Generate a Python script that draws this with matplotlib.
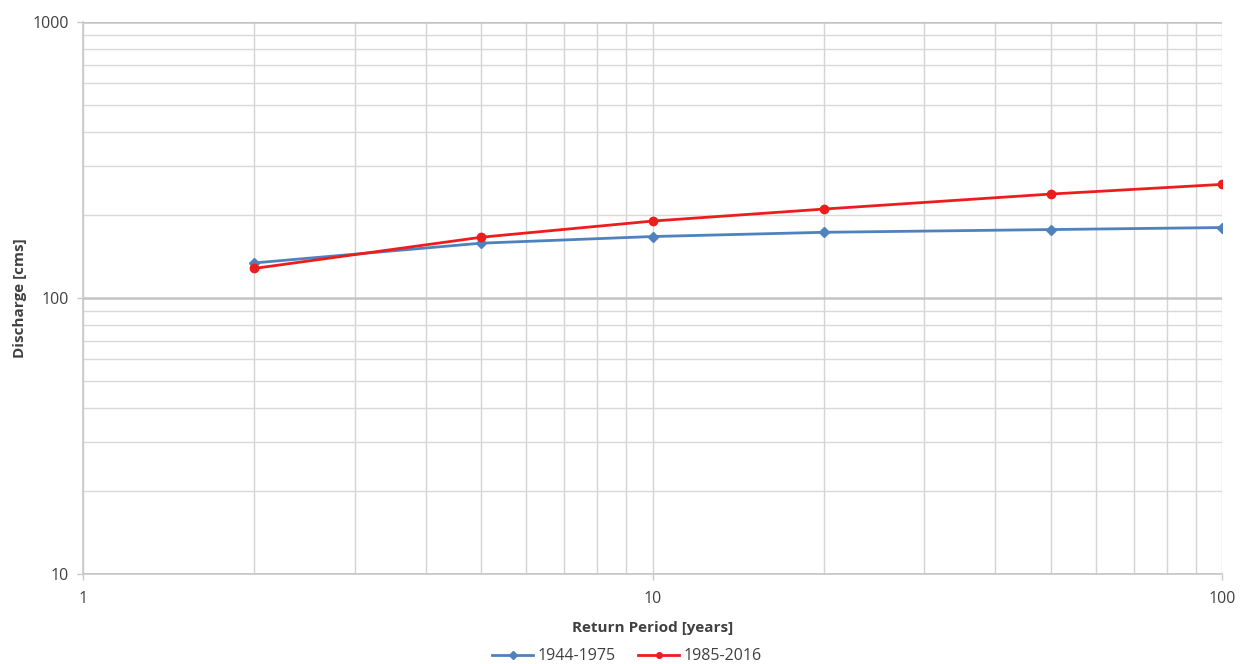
import matplotlib
matplotlib.use("Agg")
import matplotlib.pyplot as plt
from matplotlib.ticker import LogLocator, FixedLocator, NullFormatter, FixedFormatter

return_period = [2, 5, 10, 20, 50, 100]
q_1944_1975 = [134, 158, 167, 173, 177, 180]
q_1985_2016 = [128, 166, 190, 210, 238, 258]
series_labels = ["1944-1975", "1985-2016"]
x_ticks = [1, 10, 100]
x_tick_labels = ["1", "10", "100"]
y_ticks = [10, 100, 1000]
y_tick_labels = ["10", "100", "1000"]

plt.rcParams['font.family'] = ['Open Sans', 'DejaVu Sans']

fig = plt.figure(figsize=(12.41, 6.64), dpi=100)
ax = fig.add_axes([83/1241, 90/664, 1139/1241, 552/664])
ax.set_xscale('log')
ax.set_yscale('log')
ax.set_xlim(1, 100)
ax.set_ylim(10, 1000)

ax.xaxis.set_major_locator(FixedLocator(x_ticks))
ax.xaxis.set_major_formatter(FixedFormatter(x_tick_labels))
ax.yaxis.set_major_locator(FixedLocator(y_ticks))
ax.yaxis.set_major_formatter(FixedFormatter(y_tick_labels))
ax.xaxis.set_minor_locator(LogLocator(base=10, subs=range(2, 10)))
ax.yaxis.set_minor_locator(LogLocator(base=10, subs=range(2, 10)))
ax.xaxis.set_minor_formatter(NullFormatter())
ax.yaxis.set_minor_formatter(NullFormatter())

ax.xaxis.grid(True, which='both', color='#d4d4d4', linewidth=1.0)
ax.yaxis.grid(True, which='minor', color='#d9d9d9', linewidth=1.0)
ax.yaxis.grid(True, which='major', color='#c4c4c4', linewidth=1.8)
ax.set_axisbelow(True)

for s in ['top', 'right']:
    ax.spines[s].set_visible(False)
for s in ['left', 'bottom']:
    ax.spines[s].set_color('#c8c8c8')
    ax.spines[s].set_linewidth(1.2)
ax.tick_params(which='major', length=4, width=1.0, color='#c8c8c8',
               labelsize=11.5, labelcolor='#404040')
ax.tick_params(which='minor', length=0)
ax.tick_params(axis='x', pad=8)
ax.tick_params(axis='y', pad=6)

ax.plot(return_period, q_1944_1975, color='#4f81bd', marker='D', markersize=5,
        linewidth=2, label=series_labels[0], zorder=3)
ax.plot(return_period, q_1985_2016, color='#ee1c1c', marker='o', markersize=6,
        linewidth=2, label=series_labels[1], zorder=4)

ax.set_xlabel('Return Period [years]', fontsize=11, fontweight='bold', color='#404040', labelpad=10)
fig.text(20/1241, 1 - 298/664, 'Discharge [cms]', rotation=90, ha='center', va='center',
         fontsize=11, fontweight='bold', color='#404040')

leg = fig.legend(loc='lower center', bbox_to_anchor=(0.505, -0.022), ncol=2, frameon=False,
                 fontsize=11.5, handlelength=2.6, columnspacing=1.4, handletextpad=0.25)
for t in leg.get_texts():
    t.set_color('#404040')
for h in leg.legend_handles:
    h.set_markersize(4)

fig.savefig('out.png', dpi=100)
